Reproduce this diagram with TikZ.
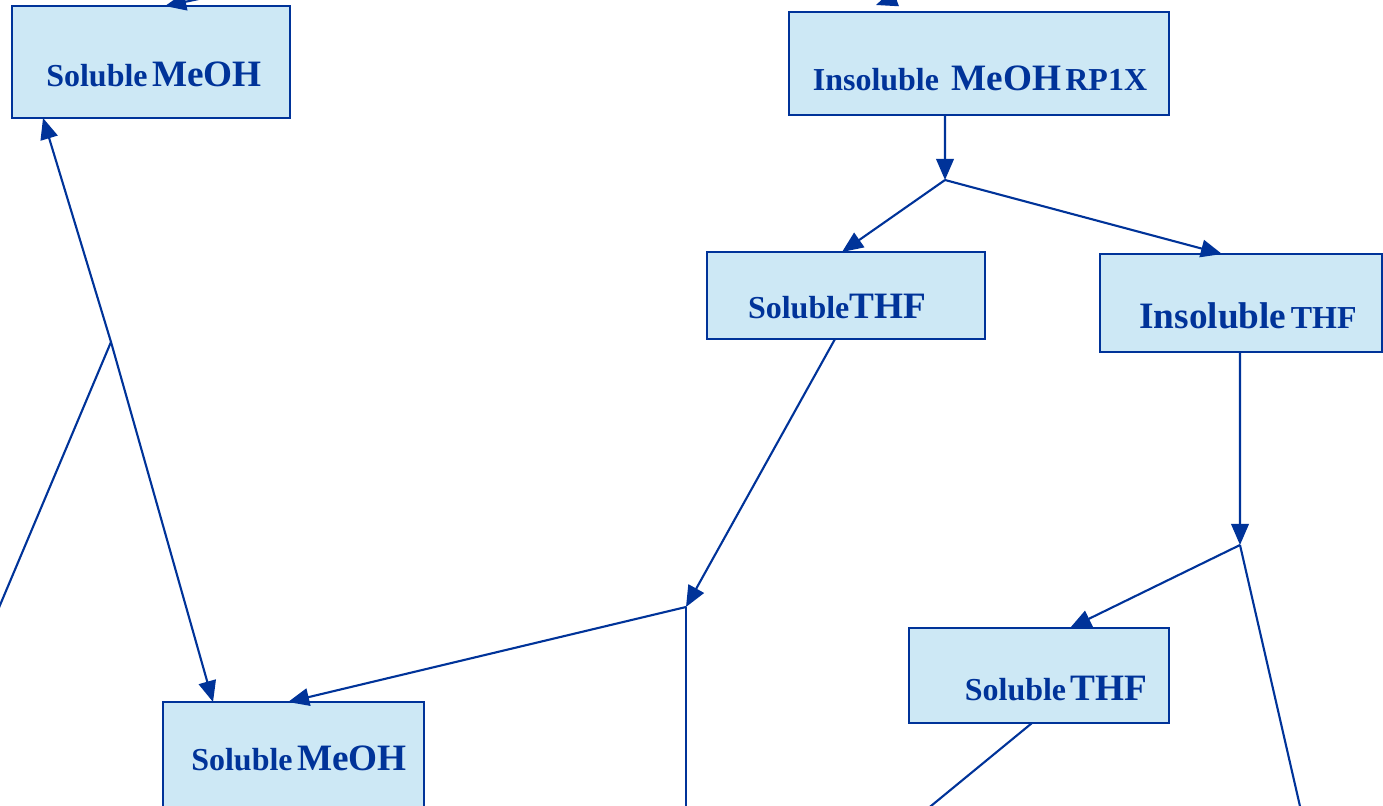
\documentclass[tikz,border=0pt]{standalone}
\usepackage{fontspec}
\setmainfont{Liberation Serif}
\usetikzlibrary{arrows.meta,positioning,calc}
\definecolor{boxblue}{RGB}{0,51,153}
\definecolor{boxfill}{RGB}{205,232,245}
\newcommand{\txsm}[1]{{\fontsize{18.2}{22}\selectfont #1}}
\newcommand{\txbg}[1]{{\fontsize{21.2}{25}\selectfont #1}}
\tikzset{
  fraction/.style={draw=boxblue,fill=boxfill,line width=1.2pt,inner sep=0pt,outer sep=0pt},
  fractext/.style={anchor=base,text=boxblue,font=\bfseries,inner sep=0pt},
  flow/.style={draw=boxblue,line width=1.2pt},
  flowarr/.style={flow,-{Triangle[length=12pt,width=10pt]}}
}

\begin{document}
\begin{tikzpicture}[x=0.02cm,y=-0.02cm]
\useasboundingbox (0,0) rectangle (1383,805);
\clip (0,0) rectangle (1383,805);
% fractions
\node[fraction,minimum width=5.56cm,minimum height=2.24cm] (smA) at (151,62) {};
\node[fraction,minimum width=7.6cm,minimum height=2.06cm] (smB) at (979,63.5) {};
\node[fraction,minimum width=5.56cm,minimum height=1.74cm] (smC) at (846,295.5) {};
\node[fraction,minimum width=5.64cm,minimum height=1.96cm] (smD) at (1241,303) {};
\node[fraction,minimum width=5.2cm,minimum height=1.9cm] (smE) at (1039,675.5) {};
\node[fraction,minimum width=5.22cm,minimum height=2.26cm] (smF) at (293.5,758.5) {};
\node[fractext] (smA-t) at (154,86) {\txsm{Soluble} \txbg{MeOH}};
\node[fractext] (smB-t) at (980,90) {\txsm{Insoluble}\hspace{0.45em} \txbg{MeOH} \txsm{RP1X}};
\node[fractext] (smC-t) at (837,318) {\txsm{Soluble}\txbg{THF}};
\node[fractext] (smD-t) at (1248,328) {\txbg{Insoluble} \txsm{THF}};
\node[fractext] (smE-t) at (1056,700) {\txsm{Soluble} \txbg{THF}};
\node[fractext] (smF-t) at (299,770) {\txsm{Soluble} \txbg{MeOH}};
% junctions and loose ends
\coordinate (j0) at (111,342);
\coordinate (j1) at (945,180);
\coordinate (j2) at (686,607);
\coordinate (j3) at (1240,545);
\coordinate (c1) at (218,-5);
\coordinate (c2) at (906,-6);
\coordinate (e0) at (-5,617);
\coordinate (e2) at (686,815);
\coordinate (e3) at (1302,815);
\coordinate (e5) at (920,815);
% connectors
\draw[flowarr] (c1) -- ($(smA.north west)+(153,0)$);
\draw[flowarr] (c2) -- ($(smB.north west)+(87,-7)$);
\draw[flow] (e0) -- (j0);
\draw[flowarr] (j0) -- ($(smA.south west)+(31,0)$);
\draw[flowarr] (j0) -- ($(smF.north west)+(50,0)$);
\draw[flowarr] ($(smB.south west)+(156,0)$) -- (j1);
\draw[flowarr] (j1) -- ($(smC.north west)+(135,0)$);
\draw[flowarr] (j1) -- ($(smD.north west)+(122,0)$);
\draw[flowarr] ($(smC.south west)+(128,0)$) -- (j2);
\draw[flowarr] (j2) -- ($(smF.north west)+(125,0)$);
\draw[flow] (j2) -- (e2);
\draw[flowarr] ($(smD.south west)+(140,0)$) -- (j3);
\draw[flowarr] (j3) -- ($(smE.north west)+(161,0)$);
\draw[flow] (j3) -- (e3);
\draw[flow] ($(smE.south west)+(123,0)$) -- (e5);
\end{tikzpicture}
\end{document}
